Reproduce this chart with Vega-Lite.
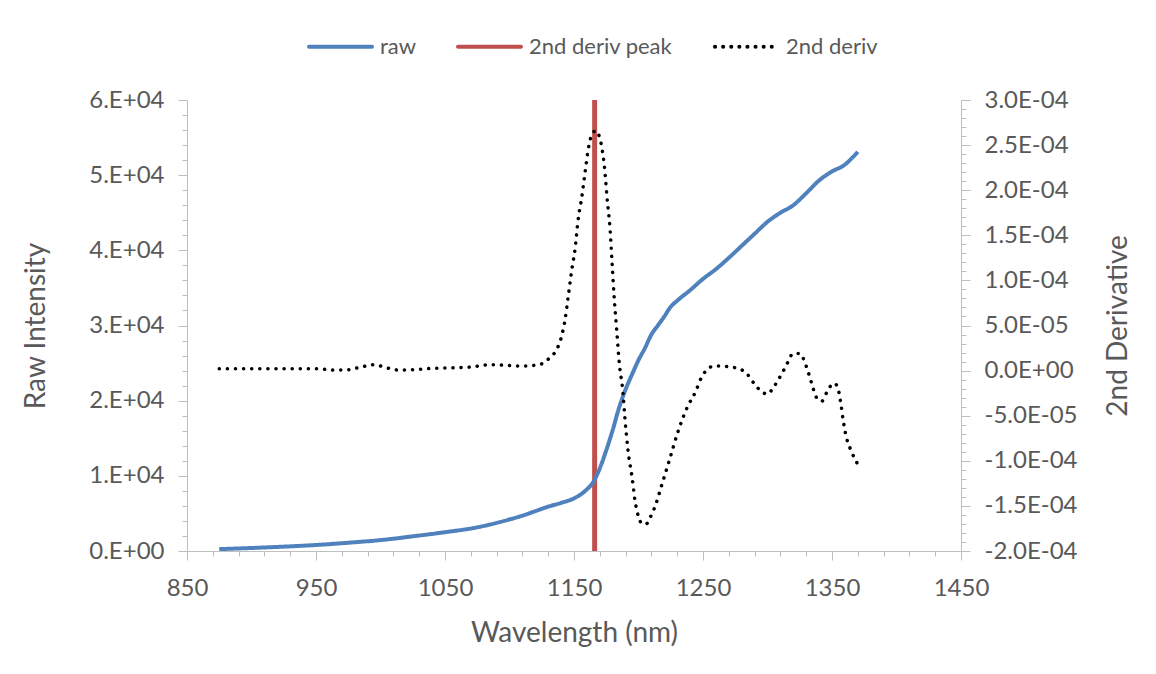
{
  "$schema": "https://vega.github.io/schema/vega-lite/v6.json",
  "width": 774,
  "height": 451,
  "padding": {"left": 22, "top": 13, "right": 5, "bottom": 5},
  "background": "white",
  "config": {
    "view": {"stroke": null},
    "font": "Lato",
    "axis": {
      "grid": false,
      "domainColor": "#BFBFBF",
      "tickColor": "#BFBFBF",
      "labelColor": "#595959",
      "titleColor": "#595959",
      "labelFont": "Lato",
      "titleFont": "Lato",
      "labelFontSize": 24,
      "titleFontSize": 28,
      "titleFontWeight": "normal"
    },
    "legend": {
      "orient": "none",
      "legendX": 120,
      "legendY": -87,
      "direction": "horizontal",
      "title": null,
      "labelFont": "Lato",
      "labelFontSize": 22,
      "labelColor": "#595959",
      "symbolType": "stroke",
      "symbolSize": 3969,
      "symbolStrokeWidth": 4,
      "labelOffset": 6,
      "columnPadding": 34
    }
  },
  "datasets": {
    "raw": [
      {"wl": 875, "intensity": 250, "series": "raw"},
      {"wl": 900, "intensity": 400, "series": "raw"},
      {"wl": 925, "intensity": 580, "series": "raw"},
      {"wl": 950, "intensity": 800, "series": "raw"},
      {"wl": 975, "intensity": 1100, "series": "raw"},
      {"wl": 1000, "intensity": 1450, "series": "raw"},
      {"wl": 1025, "intensity": 1950, "series": "raw"},
      {"wl": 1050, "intensity": 2500, "series": "raw"},
      {"wl": 1075, "intensity": 3150, "series": "raw"},
      {"wl": 1100, "intensity": 4200, "series": "raw"},
      {"wl": 1110, "intensity": 4700, "series": "raw"},
      {"wl": 1120, "intensity": 5300, "series": "raw"},
      {"wl": 1130, "intensity": 5900, "series": "raw"},
      {"wl": 1140, "intensity": 6400, "series": "raw"},
      {"wl": 1150, "intensity": 7000, "series": "raw"},
      {"wl": 1155, "intensity": 7500, "series": "raw"},
      {"wl": 1160, "intensity": 8200, "series": "raw"},
      {"wl": 1165, "intensity": 9200, "series": "raw"},
      {"wl": 1170, "intensity": 11000, "series": "raw"},
      {"wl": 1175, "intensity": 13400, "series": "raw"},
      {"wl": 1180, "intensity": 16100, "series": "raw"},
      {"wl": 1185, "intensity": 19100, "series": "raw"},
      {"wl": 1190, "intensity": 21500, "series": "raw"},
      {"wl": 1195, "intensity": 23500, "series": "raw"},
      {"wl": 1200, "intensity": 25400, "series": "raw"},
      {"wl": 1205, "intensity": 27000, "series": "raw"},
      {"wl": 1210, "intensity": 28800, "series": "raw"},
      {"wl": 1215, "intensity": 30000, "series": "raw"},
      {"wl": 1220, "intensity": 31200, "series": "raw"},
      {"wl": 1225, "intensity": 32500, "series": "raw"},
      {"wl": 1230, "intensity": 33300, "series": "raw"},
      {"wl": 1240, "intensity": 34700, "series": "raw"},
      {"wl": 1250, "intensity": 36200, "series": "raw"},
      {"wl": 1260, "intensity": 37500, "series": "raw"},
      {"wl": 1270, "intensity": 39000, "series": "raw"},
      {"wl": 1280, "intensity": 40600, "series": "raw"},
      {"wl": 1290, "intensity": 42200, "series": "raw"},
      {"wl": 1300, "intensity": 43800, "series": "raw"},
      {"wl": 1310, "intensity": 45000, "series": "raw"},
      {"wl": 1320, "intensity": 46000, "series": "raw"},
      {"wl": 1330, "intensity": 47600, "series": "raw"},
      {"wl": 1340, "intensity": 49300, "series": "raw"},
      {"wl": 1350, "intensity": 50500, "series": "raw"},
      {"wl": 1360, "intensity": 51400, "series": "raw"},
      {"wl": 1365, "intensity": 52200, "series": "raw"},
      {"wl": 1370, "intensity": 53100, "series": "raw"}
    ],
    "peak": [
      {"wl": 1166, "series": "2nd deriv peak"}
    ],
    "deriv": [
      {"wl": 875, "d2": 2e-6, "series": "2nd deriv"},
      {"wl": 900, "d2": 2e-6, "series": "2nd deriv"},
      {"wl": 925, "d2": 2e-6, "series": "2nd deriv"},
      {"wl": 950, "d2": 2e-6, "series": "2nd deriv"},
      {"wl": 965, "d2": 0.5e-6, "series": "2nd deriv"},
      {"wl": 975, "d2": 1e-6, "series": "2nd deriv"},
      {"wl": 985, "d2": 4e-6, "series": "2nd deriv"},
      {"wl": 995, "d2": 6.5e-6, "series": "2nd deriv"},
      {"wl": 1005, "d2": 3e-6, "series": "2nd deriv"},
      {"wl": 1015, "d2": 0.5e-6, "series": "2nd deriv"},
      {"wl": 1025, "d2": 1e-6, "series": "2nd deriv"},
      {"wl": 1040, "d2": 2.5e-6, "series": "2nd deriv"},
      {"wl": 1055, "d2": 3e-6, "series": "2nd deriv"},
      {"wl": 1070, "d2": 4e-6, "series": "2nd deriv"},
      {"wl": 1085, "d2": 6.5e-6, "series": "2nd deriv"},
      {"wl": 1095, "d2": 6e-6, "series": "2nd deriv"},
      {"wl": 1110, "d2": 5e-6, "series": "2nd deriv"},
      {"wl": 1120, "d2": 6e-6, "series": "2nd deriv"},
      {"wl": 1126, "d2": 8e-6, "series": "2nd deriv"},
      {"wl": 1131, "d2": 14e-6, "series": "2nd deriv"},
      {"wl": 1136, "d2": 22e-6, "series": "2nd deriv"},
      {"wl": 1140, "d2": 36e-6, "series": "2nd deriv"},
      {"wl": 1143, "d2": 56e-6, "series": "2nd deriv"},
      {"wl": 1145.5, "d2": 82e-6, "series": "2nd deriv"},
      {"wl": 1148, "d2": 109e-6, "series": "2nd deriv"},
      {"wl": 1151, "d2": 137e-6, "series": "2nd deriv"},
      {"wl": 1153, "d2": 165e-6, "series": "2nd deriv"},
      {"wl": 1156, "d2": 192e-6, "series": "2nd deriv"},
      {"wl": 1158.5, "d2": 219e-6, "series": "2nd deriv"},
      {"wl": 1161, "d2": 245e-6, "series": "2nd deriv"},
      {"wl": 1164, "d2": 262e-6, "series": "2nd deriv"},
      {"wl": 1167, "d2": 266e-6, "series": "2nd deriv"},
      {"wl": 1169, "d2": 262e-6, "series": "2nd deriv"},
      {"wl": 1171.5, "d2": 248e-6, "series": "2nd deriv"},
      {"wl": 1174, "d2": 220e-6, "series": "2nd deriv"},
      {"wl": 1175.6, "d2": 192e-6, "series": "2nd deriv"},
      {"wl": 1178, "d2": 156e-6, "series": "2nd deriv"},
      {"wl": 1179.5, "d2": 120e-6, "series": "2nd deriv"},
      {"wl": 1181, "d2": 84e-6, "series": "2nd deriv"},
      {"wl": 1183, "d2": 47e-6, "series": "2nd deriv"},
      {"wl": 1185, "d2": 10e-6, "series": "2nd deriv"},
      {"wl": 1188, "d2": -25e-6, "series": "2nd deriv"},
      {"wl": 1189.5, "d2": -53e-6, "series": "2nd deriv"},
      {"wl": 1192, "d2": -90e-6, "series": "2nd deriv"},
      {"wl": 1195, "d2": -118e-6, "series": "2nd deriv"},
      {"wl": 1197.5, "d2": -146e-6, "series": "2nd deriv"},
      {"wl": 1200, "d2": -162e-6, "series": "2nd deriv"},
      {"wl": 1203, "d2": -170e-6, "series": "2nd deriv"},
      {"wl": 1206, "d2": -170e-6, "series": "2nd deriv"},
      {"wl": 1209, "d2": -163e-6, "series": "2nd deriv"},
      {"wl": 1213, "d2": -150e-6, "series": "2nd deriv"},
      {"wl": 1218, "d2": -127e-6, "series": "2nd deriv"},
      {"wl": 1224, "d2": -99e-6, "series": "2nd deriv"},
      {"wl": 1231, "d2": -66e-6, "series": "2nd deriv"},
      {"wl": 1238, "d2": -40e-6, "series": "2nd deriv"},
      {"wl": 1244, "d2": -24e-6, "series": "2nd deriv"},
      {"wl": 1249, "d2": -7e-6, "series": "2nd deriv"},
      {"wl": 1254, "d2": 2e-6, "series": "2nd deriv"},
      {"wl": 1258, "d2": 5e-6, "series": "2nd deriv"},
      {"wl": 1265, "d2": 5e-6, "series": "2nd deriv"},
      {"wl": 1271, "d2": 4e-6, "series": "2nd deriv"},
      {"wl": 1278, "d2": 2e-6, "series": "2nd deriv"},
      {"wl": 1283, "d2": -2e-6, "series": "2nd deriv"},
      {"wl": 1290, "d2": -15e-6, "series": "2nd deriv"},
      {"wl": 1296, "d2": -24e-6, "series": "2nd deriv"},
      {"wl": 1300, "d2": -26e-6, "series": "2nd deriv"},
      {"wl": 1304, "d2": -20e-6, "series": "2nd deriv"},
      {"wl": 1308, "d2": -11e-6, "series": "2nd deriv"},
      {"wl": 1314, "d2": 4e-6, "series": "2nd deriv"},
      {"wl": 1320, "d2": 19e-6, "series": "2nd deriv"},
      {"wl": 1325, "d2": 19e-6, "series": "2nd deriv"},
      {"wl": 1330, "d2": 5e-6, "series": "2nd deriv"},
      {"wl": 1334, "d2": -13e-6, "series": "2nd deriv"},
      {"wl": 1338, "d2": -30e-6, "series": "2nd deriv"},
      {"wl": 1342, "d2": -34e-6, "series": "2nd deriv"},
      {"wl": 1346, "d2": -24e-6, "series": "2nd deriv"},
      {"wl": 1349, "d2": -17e-6, "series": "2nd deriv"},
      {"wl": 1352, "d2": -14e-6, "series": "2nd deriv"},
      {"wl": 1355, "d2": -22e-6, "series": "2nd deriv"},
      {"wl": 1357, "d2": -38e-6, "series": "2nd deriv"},
      {"wl": 1359, "d2": -58e-6, "series": "2nd deriv"},
      {"wl": 1361.5, "d2": -76e-6, "series": "2nd deriv"},
      {"wl": 1364, "d2": -86e-6, "series": "2nd deriv"},
      {"wl": 1370, "d2": -104e-6, "series": "2nd deriv"}
    ]
  },
  "encoding": {
    "x": {
      "field": "wl",
      "type": "quantitative",
      "title": "Wavelength (nm)",
      "scale": {"domain": [850, 1450], "nice": false, "zero": false},
      "axis": {
        "values": [850,870,890,910,930,950,970,990,1010,1030,1050,1070,1090,1110,1130,1150,1170,1190,1210,1230,1250,1270,1290,1310,1330,1350,1370,1390,1410,1430,1450],
        "labelExpr": "(datum.value - 850) % 100 != 0 ? '' : format(datum.value, 'd')",
        "tickSize": {"condition": {"test": "(datum.value - 850) % 100 == 0", "value": 9}, "value": 5},
        "labelPadding": 16,
        "titlePadding": 19,
        "labelFlush": false
      }
    },
    "color": {
      "field": "series",
      "type": "nominal",
      "scale": {"domain": ["raw", "2nd deriv peak", "2nd deriv"], "range": ["#4F81BD", "#C0504D", "#000000"]},
      "legend": {"encode": {"symbols": {"update": {"strokeCap": {"value": "round"}}}}}
    },
    "strokeDash": {
      "field": "series",
      "type": "nominal",
      "scale": {"domain": ["raw", "2nd deriv peak", "2nd deriv"], "range": [[1, 0], [1, 0], [0.1, 8]]}
    }
  },
  "layer": [
    {
      "data": {"name": "peak"},
      "mark": {"type": "rule", "strokeWidth": 5}
    },
    {
      "data": {"name": "raw"},
      "mark": {"type": "line", "strokeWidth": 4, "interpolate": "monotone"},
      "encoding": {
        "y": {
          "field": "intensity",
          "type": "quantitative",
          "title": "Raw Intensity",
          "scale": {"domain": [0, 60000], "nice": false},
          "axis": {
            "orient": "left",
            "values": [0,2000,4000,6000,8000,10000,12000,14000,16000,18000,20000,22000,24000,26000,28000,30000,32000,34000,36000,38000,40000,42000,44000,46000,48000,50000,52000,54000,56000,58000,60000],
            "labelExpr": "round(datum.value) % 10000 != 0 ? '' : (datum.value == 0 ? '0.E+00' : format(datum.value / 10000, 'd') + '.E+04')",
            "tickSize": {"condition": {"test": "round(datum.value) % 10000 == 0", "value": 9}, "value": 5},
            "labelPadding": 14,
            "titlePadding": 38,
            "labelFlush": false
          }
        }
      }
    },
    {
      "data": {"name": "deriv"},
      "mark": {"type": "line", "strokeWidth": 3.5, "strokeCap": "round", "interpolate": "monotone"},
      "encoding": {
        "y": {
          "field": "d2",
          "type": "quantitative",
          "title": "2nd Derivative",
          "scale": {"domain": [-0.0002, 0.0003], "nice": false, "zero": false},
          "axis": {
            "orient": "right",
            "values": [-2.0e-4,-1.9e-4,-1.8e-4,-1.7e-4,-1.6e-4,-1.5e-4,-1.4e-4,-1.3e-4,-1.2e-4,-1.1e-4,-1.0e-4,-0.9e-4,-0.8e-4,-0.7e-4,-0.6e-4,-0.5e-4,-0.4e-4,-0.3e-4,-0.2e-4,-0.1e-4,0,0.1e-4,0.2e-4,0.3e-4,0.4e-4,0.5e-4,0.6e-4,0.7e-4,0.8e-4,0.9e-4,1.0e-4,1.1e-4,1.2e-4,1.3e-4,1.4e-4,1.5e-4,1.6e-4,1.7e-4,1.8e-4,1.9e-4,2.0e-4,2.1e-4,2.2e-4,2.3e-4,2.4e-4,2.5e-4,2.6e-4,2.7e-4,2.8e-4,2.9e-4,3.0e-4],
            "labelExpr": "abs(round(datum.value * 1e5)) % 5 != 0 ? '' : ((datum.value < -1e-12 ? '-' : '') + replace(replace(upper(format(abs(datum.value), '.1e')), 'E-', 'E-0'), 'E+', 'E+0'))",
            "tickSize": {"condition": {"test": "abs(round(datum.value * 1e5)) % 5 == 0", "value": 9}, "value": 5},
            "labelPadding": 14,
            "titlePadding": 55,
            "titleAngle": -90,
            "labelFlush": false
          }
        }
      }
    }
  ],
  "resolve": {"scale": {"y": "independent"}}
}
